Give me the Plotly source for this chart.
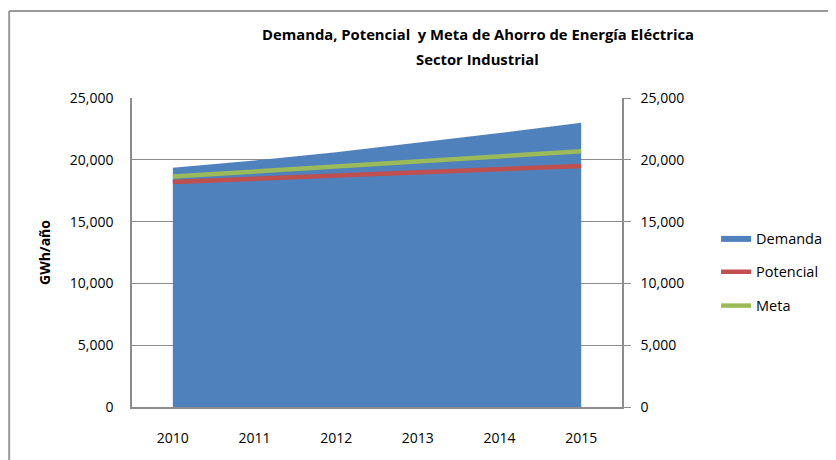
import plotly.graph_objects as go

years = ["2010", "2011", "2012", "2013", "2014", "2015"]
demanda = [19350, 19950, 20620, 21380, 22170, 23000]
potencial = [18200, 18450, 18700, 18950, 19220, 19500]
meta = [18640, 19040, 19450, 19850, 20260, 20690]
y_ticks = [0, 5000, 10000, 15000, 20000, 25000]
y_ticktext = ["0", "5,000", "10,000", "15,000", "20,000", "25,000"]
title_lines = ["Demanda, Potencial  y Meta de Ahorro de Energía Eléctrica",
               "Sector Industrial"]

FONT = "Open Sans"
GRID = "#8c8c8c"

fig = go.Figure()
fig.add_trace(go.Scatter(
    x=years, y=demanda, name="Demanda", mode="lines",
    line=dict(width=0, color="#4F81BD"), fill="tozeroy",
    fillcolor="#4F81BD", legendgroup="a"))
fig.add_trace(go.Scatter(
    x=years, y=potencial, name="Potencial", mode="lines",
    line=dict(width=4.5, color="#C0504D"), legendgroup="b"))
fig.add_trace(go.Scatter(
    x=years, y=meta, name="Meta", mode="lines",
    line=dict(width=4.5, color="#9BBB59"), legendgroup="c"))
# invisible trace to draw the right axis
fig.add_trace(go.Scatter(x=years, y=meta, yaxis="y2", mode="lines",
                         line=dict(width=0), showlegend=False,
                         hoverinfo="skip", opacity=0))

fig.update_layout(
    width=836, height=460,
    margin=dict(l=124, r=222, t=90, b=61),
    paper_bgcolor="white", plot_bgcolor="white",
    font=dict(family=FONT, size=14, color="black"),
    xaxis=dict(type="category", range=[-0.5, 5.5], showgrid=False,
               showline=True, linecolor=GRID, linewidth=1.5,
               ticks="", ticklabelstandoff=17, tickfont=dict(size=14)),
    yaxis=dict(range=[0, 25000], tickvals=y_ticks, ticktext=y_ticktext,
               showgrid=True, gridcolor=GRID, gridwidth=1,
               showline=True, linecolor=GRID, linewidth=1.5,
               ticks="", ticklabelstandoff=14, zeroline=False,
               tickfont=dict(size=14),
               title=dict(text="<b>GWh/año</b>", standoff=16,
                          font=dict(size=14))),
    yaxis2=dict(range=[0, 25000], tickvals=y_ticks, ticktext=y_ticktext,
                overlaying="y", side="right", showgrid=False,
                showline=True, linecolor=GRID, linewidth=1.5,
                ticks="outside", ticklen=7, tickcolor=GRID,
                ticklabelstandoff=7, zeroline=False,
                tickfont=dict(size=14)),
    legend=dict(x=1.192, xanchor="left", y=0.437, yanchor="middle",
                xref="paper", yref="paper", tracegroupgap=12,
                traceorder="grouped", font=dict(size=14.5),
                itemwidth=30, bgcolor="rgba(0,0,0,0)"),
    annotations=[
        dict(text="<b>%s</b>" % title_lines[0], xref="paper", yref="paper",
             x=0.706, y=1.207, xanchor="center", yanchor="middle",
             showarrow=False, font=dict(family=FONT, size=14.8)),
        dict(text="<b>%s</b>" % title_lines[1], xref="paper", yref="paper",
             x=0.706, y=1.126, xanchor="center", yanchor="middle",
             showarrow=False, font=dict(family=FONT, size=14.8)),
    ],
    shapes=[
        dict(type="line", xref="paper", yref="paper",
             x0=-0.2507, x1=-0.2507, y0=-0.25, y1=1.2816,
             line=dict(color="#999999", width=2)),
        dict(type="line", xref="paper", yref="paper",
             x0=-0.2507, x1=1.45, y0=1.2816, y1=1.2816,
             line=dict(color="#999999", width=2)),
    ],
)

fig.write_html("out.html")
